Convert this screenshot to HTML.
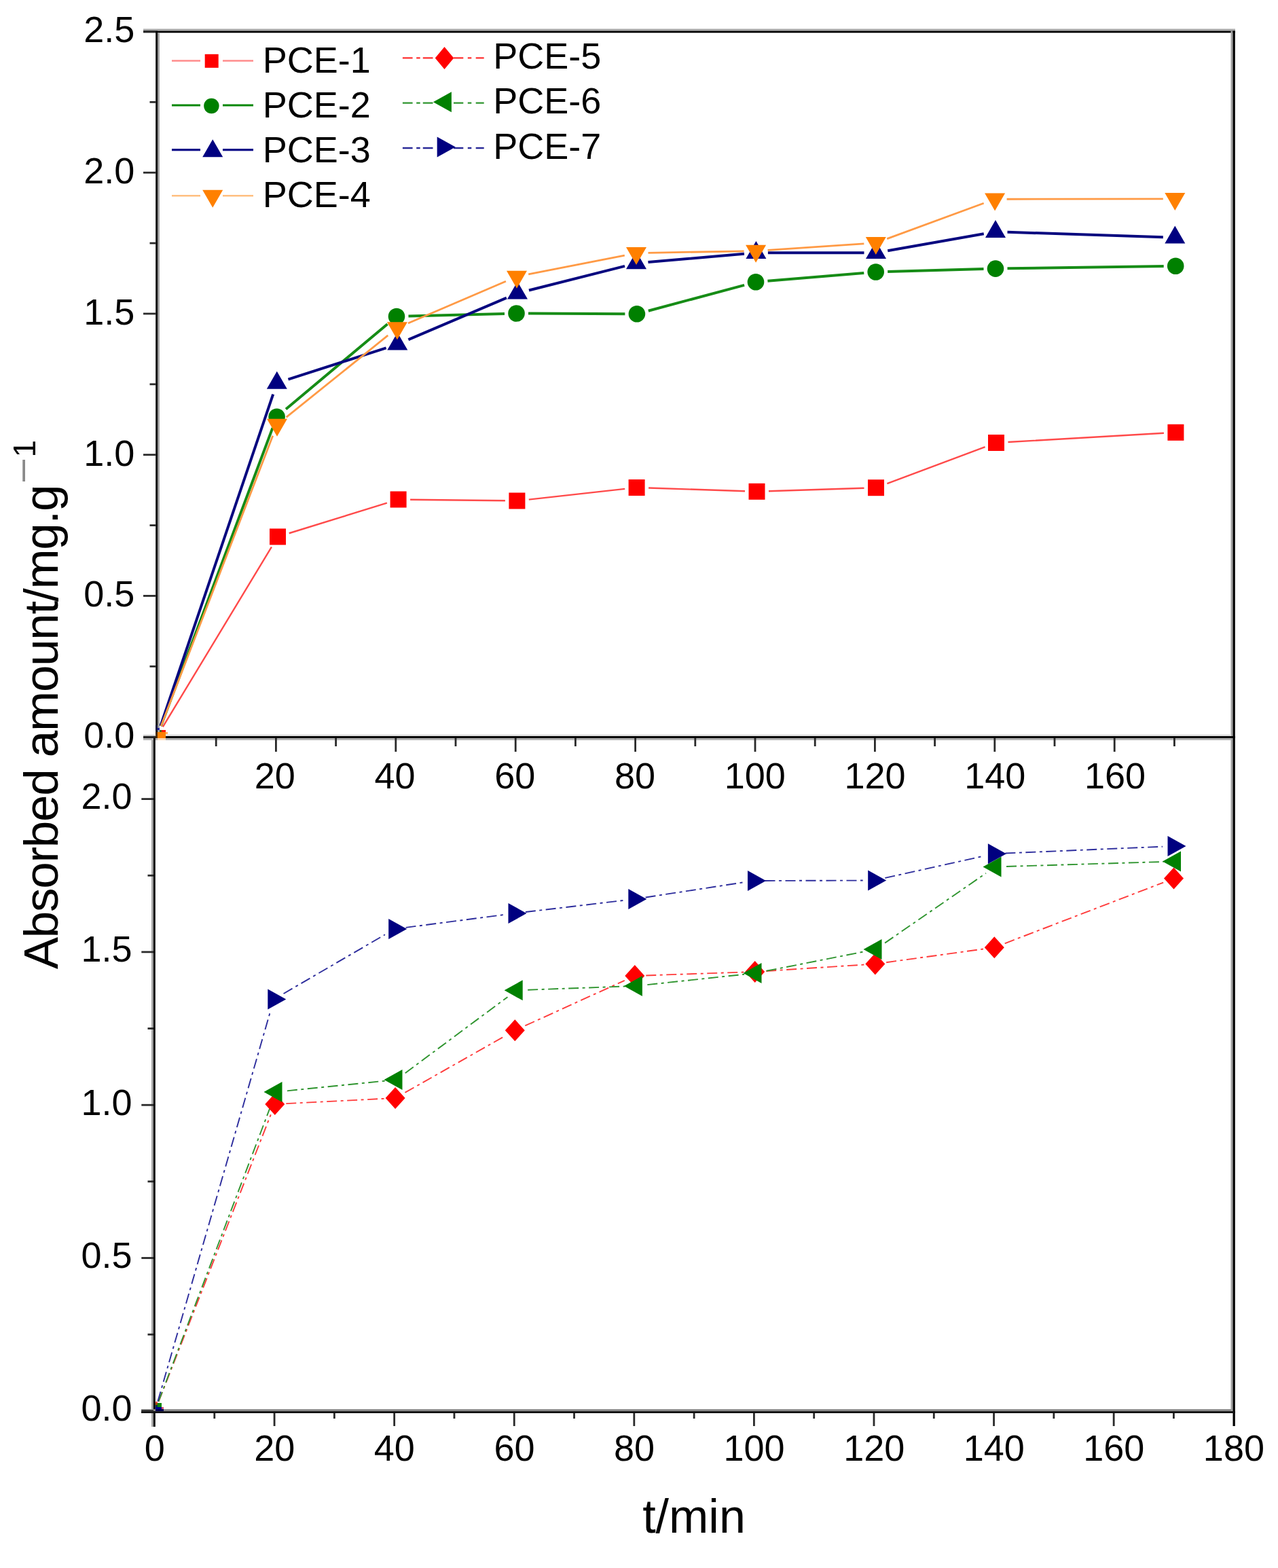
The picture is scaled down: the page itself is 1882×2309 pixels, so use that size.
<!DOCTYPE html>
<html><head><meta charset="utf-8"><title>Absorbed amount vs time</title>
<style>html,body{margin:0;padding:0;background:#fff;}svg{display:block;}</style>
</head><body>
<svg width="1882" height="2309" viewBox="0 0 1882 2309" font-family='"Liberation Sans", Arial, sans-serif'>
<rect width="1882" height="2309" fill="#ffffff"/>
<defs>
<clipPath id="ct"><rect x="232" y="48" width="1581" height="1036"/></clipPath>
<clipPath id="cb"><rect x="229" y="1090" width="1584" height="985"/></clipPath>
</defs>
<g clip-path="url(#ct)">
<path d="M239.79,1070.45L399.95,805.38 M425.72,785.23L569.88,740.67 M604.10,735.70L743.90,737.30 M778.79,735.58L920.21,719.92 M955.09,718.57L1097.01,723.23 M1131.99,723.24L1272.51,718.76 M1306.39,712.07L1450.61,658.13 M1484.47,651.00L1713.93,637.80" stroke="#ff4a4a" stroke-width="2.4" fill="none"/>
<path d="M236.97,1069.08L401.46,630.09 M421.02,602.47L570.58,477.23 M601.49,465.55L743.01,461.95 M778.00,461.58L920.40,462.22 M954.80,457.76L1096.10,419.84 M1130.44,413.84L1272.26,401.96 M1307.19,400.01L1448.51,396.09 M1483.50,395.35L1713.70,392.05" stroke="#168c16" stroke-width="4.0" fill="none"/>
<path d="M236.46,1068.90L402.18,580.61 M424.46,558.67L568.64,512.29 M601.41,500.09L745.89,438.68 M778.96,427.54L920.04,391.83 M954.43,386.02L1095.97,373.75 M1130.90,372.24L1272.50,372.32 M1307.23,369.29L1448.77,344.28 M1483.49,341.80L1712.81,349.17" stroke="#06067f" stroke-width="4.0" fill="none"/>
<path d="M237.11,1069.14L401.71,641.70 M421.63,614.39L571.27,493.94 M600.98,476.06L744.92,414.27 M778.17,403.98L919.83,376.05 M954.50,372.35L1095.60,369.78 M1130.56,368.30L1272.34,358.83 M1306.23,351.63L1448.67,299.30 M1482.60,293.23L1712.80,292.80" stroke="#ff9a45" stroke-width="2.8" fill="none"/>
<rect x="397.00" y="778.40" width="24.00" height="24.00" fill="#ff0000"/>
<rect x="574.60" y="723.50" width="24.00" height="24.00" fill="#ff0000"/>
<rect x="749.40" y="725.50" width="24.00" height="24.00" fill="#ff0000"/>
<rect x="925.60" y="706.00" width="24.00" height="24.00" fill="#ff0000"/>
<rect x="1102.50" y="711.80" width="24.00" height="24.00" fill="#ff0000"/>
<rect x="1278.00" y="706.20" width="24.00" height="24.00" fill="#ff0000"/>
<rect x="1455.00" y="640.00" width="24.00" height="24.00" fill="#ff0000"/>
<rect x="1719.40" y="624.80" width="24.00" height="24.00" fill="#ff0000"/>
<circle cx="407.60" cy="613.70" r="12.30" fill="#008000"/>
<circle cx="584.00" cy="466.00" r="12.30" fill="#008000"/>
<circle cx="760.50" cy="461.50" r="12.30" fill="#008000"/>
<circle cx="937.90" cy="462.30" r="12.30" fill="#008000"/>
<circle cx="1113.00" cy="415.30" r="12.30" fill="#008000"/>
<circle cx="1289.70" cy="400.50" r="12.30" fill="#008000"/>
<circle cx="1466.00" cy="395.60" r="12.30" fill="#008000"/>
<circle cx="1731.20" cy="391.80" r="12.30" fill="#008000"/>
<polygon points="407.80,546.70 422.80,572.70 392.80,572.70" fill="#000080"/>
<polygon points="585.30,489.60 600.30,515.60 570.30,515.60" fill="#000080"/>
<polygon points="762.00,414.50 777.00,440.50 747.00,440.50" fill="#000080"/>
<polygon points="937.00,370.20 952.00,396.20 922.00,396.20" fill="#000080"/>
<polygon points="1113.40,354.90 1128.40,380.90 1098.40,380.90" fill="#000080"/>
<polygon points="1290.00,355.00 1305.00,381.00 1275.00,381.00" fill="#000080"/>
<polygon points="1466.00,323.90 1481.00,349.90 1451.00,349.90" fill="#000080"/>
<polygon points="1730.30,332.40 1745.30,358.40 1715.30,358.40" fill="#000080"/>
<polygon points="393.00,616.70 423.00,616.70 408.00,642.70" fill="#ff8000"/>
<polygon points="569.90,474.30 599.90,474.30 584.90,500.30" fill="#ff8000"/>
<polygon points="746.00,398.70 776.00,398.70 761.00,424.70" fill="#ff8000"/>
<polygon points="922.00,364.00 952.00,364.00 937.00,390.00" fill="#ff8000"/>
<polygon points="1098.10,360.80 1128.10,360.80 1113.10,386.80" fill="#ff8000"/>
<polygon points="1274.80,349.00 1304.80,349.00 1289.80,375.00" fill="#ff8000"/>
<polygon points="1450.10,284.60 1480.10,284.60 1465.10,310.60" fill="#ff8000"/>
<polygon points="1715.30,284.10 1745.30,284.10 1730.30,310.10" fill="#ff8000"/>
</g>
<g clip-path="url(#cb)">
<path d="M233.60,2063.96L398.79,1641.37 M421.28,1625.16L565.62,1617.84 M596.46,1608.87L743.94,1525.43 M773.32,1510.47L919.78,1443.83 M951.29,1436.44L1095.21,1431.56 M1128.17,1429.93L1272.33,1420.57 M1305.14,1417.24L1447.96,1397.46 M1479.70,1389.28L1713.10,1299.52" stroke="#ff3a3a" stroke-width="1.9" fill="none" stroke-dasharray="15 5.5 4 5.5"/>
<path d="M233.47,2063.91L400.65,1623.43 M422.92,1606.33L567.08,1591.67 M596.74,1580.16L747.46,1468.14 M777.19,1457.70L920.41,1452.50 M953.31,1450.13L1096.09,1434.77 M1128.69,1429.80L1273.31,1401.20 M1303.08,1388.63L1451.92,1285.87 M1481.99,1276.00L1713.51,1269.00" stroke="#2e942e" stroke-width="1.9" fill="none" stroke-dasharray="15 5.5 4 5.5"/>
<path d="M232.38,2063.55L398.72,1487.35 M417.56,1463.20L566.94,1376.30 M597.56,1365.87L741.14,1347.13 M773.88,1343.05L917.92,1325.95 M950.61,1321.49L1093.69,1299.51 M1126.50,1296.95L1270.70,1296.55 M1303.31,1292.92L1447.79,1260.78 M1480.39,1256.50L1712.01,1246.70" stroke="#2c2c9c" stroke-width="1.9" fill="none" stroke-dasharray="15 5.5 4 5.5"/>
<polygon points="404.80,1610.00 419.30,1626.00 404.80,1642.00 390.30,1626.00" fill="#ff0000"/>
<polygon points="582.10,1601.00 596.60,1617.00 582.10,1633.00 567.60,1617.00" fill="#ff0000"/>
<polygon points="758.30,1501.30 772.80,1517.30 758.30,1533.30 743.80,1517.30" fill="#ff0000"/>
<polygon points="934.80,1421.00 949.30,1437.00 934.80,1453.00 920.30,1437.00" fill="#ff0000"/>
<polygon points="1111.70,1415.00 1126.20,1431.00 1111.70,1447.00 1097.20,1431.00" fill="#ff0000"/>
<polygon points="1288.80,1403.50 1303.30,1419.50 1288.80,1435.50 1274.30,1419.50" fill="#ff0000"/>
<polygon points="1464.30,1379.20 1478.80,1395.20 1464.30,1411.20 1449.80,1395.20" fill="#ff0000"/>
<polygon points="1728.50,1277.60 1743.00,1293.60 1728.50,1309.60 1714.00,1293.60" fill="#ff0000"/>
<polygon points="388.50,1608.00 415.50,1593.00 415.50,1623.00" fill="#008000"/>
<polygon points="565.50,1590.00 592.50,1575.00 592.50,1605.00" fill="#008000"/>
<polygon points="742.70,1458.30 769.70,1443.30 769.70,1473.30" fill="#008000"/>
<polygon points="918.90,1451.90 945.90,1436.90 945.90,1466.90" fill="#008000"/>
<polygon points="1094.50,1433.00 1121.50,1418.00 1121.50,1448.00" fill="#008000"/>
<polygon points="1271.50,1398.00 1298.50,1383.00 1298.50,1413.00" fill="#008000"/>
<polygon points="1447.50,1276.50 1474.50,1261.50 1474.50,1291.50" fill="#008000"/>
<polygon points="1712.00,1268.50 1739.00,1253.50 1739.00,1283.50" fill="#008000"/>
<polygon points="421.30,1471.50 394.30,1456.50 394.30,1486.50" fill="#000080"/>
<polygon points="599.20,1368.00 572.20,1353.00 572.20,1383.00" fill="#000080"/>
<polygon points="775.50,1345.00 748.50,1330.00 748.50,1360.00" fill="#000080"/>
<polygon points="952.30,1324.00 925.30,1309.00 925.30,1339.00" fill="#000080"/>
<polygon points="1128.00,1297.00 1101.00,1282.00 1101.00,1312.00" fill="#000080"/>
<polygon points="1305.20,1296.50 1278.20,1281.50 1278.20,1311.50" fill="#000080"/>
<polygon points="1481.90,1257.20 1454.90,1242.20 1454.90,1272.20" fill="#000080"/>
<polygon points="1746.50,1246.00 1719.50,1231.00 1719.50,1261.00" fill="#000080"/>
</g>
<rect x="211.00" y="42.50" width="1608.00" height="3.00" fill="#a8a8a8"/>
<rect x="211.00" y="45.50" width="1608.00" height="2.80" fill="#000000"/>
<rect x="1812.50" y="45.50" width="3.00" height="2035.50" fill="#a0a0a0"/>
<rect x="1815.50" y="45.50" width="3.30" height="2054.50" fill="#000000"/>
<rect x="229.20" y="45.50" width="2.80" height="1041.50" fill="#000000"/>
<rect x="232.00" y="48.30" width="2.80" height="1035.70" fill="#9a9a9a"/>
<rect x="211.00" y="1081.50" width="1602.00" height="2.50" fill="#e0e0e0"/>
<rect x="211.00" y="1084.00" width="1608.00" height="3.00" fill="#000000"/>
<rect x="211.00" y="1087.00" width="1602.00" height="3.00" fill="#b4b4b4"/>
<rect x="223.10" y="1090.00" width="2.90" height="1011.00" fill="#a0a0a0"/>
<rect x="226.00" y="1086.00" width="2.80" height="1015.00" fill="#000000"/>
<rect x="208.00" y="2075.10" width="1605.00" height="3.00" fill="#8a8a8a"/>
<rect x="208.00" y="2078.10" width="1611.00" height="2.90" fill="#111111"/>
<rect x="211.00" y="1083.80" width="18.20" height="2.80" fill="#2a2a2a"/>
<text x="198.30" y="1101.00" font-size="54" text-anchor="end">0.0</text>
<rect x="220.50" y="979.93" width="8.70" height="2.80" fill="#2a2a2a"/>
<rect x="211.00" y="876.05" width="18.20" height="2.80" fill="#2a2a2a"/>
<text x="198.30" y="893.25" font-size="54" text-anchor="end">0.5</text>
<rect x="220.50" y="772.18" width="8.70" height="2.80" fill="#2a2a2a"/>
<rect x="211.00" y="668.30" width="18.20" height="2.80" fill="#2a2a2a"/>
<text x="198.30" y="685.50" font-size="54" text-anchor="end">1.0</text>
<rect x="220.50" y="564.43" width="8.70" height="2.80" fill="#2a2a2a"/>
<rect x="211.00" y="460.55" width="18.20" height="2.80" fill="#2a2a2a"/>
<text x="198.30" y="477.75" font-size="54" text-anchor="end">1.5</text>
<rect x="220.50" y="356.68" width="8.70" height="2.80" fill="#2a2a2a"/>
<rect x="211.00" y="252.80" width="18.20" height="2.80" fill="#2a2a2a"/>
<text x="198.30" y="270.00" font-size="54" text-anchor="end">2.0</text>
<rect x="220.50" y="148.93" width="8.70" height="2.80" fill="#2a2a2a"/>
<rect x="211.00" y="45.05" width="18.20" height="2.80" fill="#2a2a2a"/>
<text x="198.30" y="62.25" font-size="54" text-anchor="end">2.5</text>
<rect x="208.30" y="2076.40" width="17.70" height="2.80" fill="#2a2a2a"/>
<text x="194.50" y="2092.20" font-size="54" text-anchor="end">0.0</text>
<rect x="217.50" y="1963.75" width="8.50" height="2.80" fill="#2a2a2a"/>
<rect x="208.30" y="1851.10" width="17.70" height="2.80" fill="#2a2a2a"/>
<text x="194.50" y="1866.90" font-size="54" text-anchor="end">0.5</text>
<rect x="217.50" y="1738.45" width="8.50" height="2.80" fill="#2a2a2a"/>
<rect x="208.30" y="1625.80" width="17.70" height="2.80" fill="#2a2a2a"/>
<text x="194.50" y="1641.60" font-size="54" text-anchor="end">1.0</text>
<rect x="217.50" y="1513.15" width="8.50" height="2.80" fill="#2a2a2a"/>
<rect x="208.30" y="1400.50" width="17.70" height="2.80" fill="#2a2a2a"/>
<text x="194.50" y="1416.30" font-size="54" text-anchor="end">1.5</text>
<rect x="217.50" y="1287.85" width="8.50" height="2.80" fill="#2a2a2a"/>
<rect x="208.30" y="1175.20" width="17.70" height="2.80" fill="#2a2a2a"/>
<text x="194.50" y="1191.00" font-size="54" text-anchor="end">2.0</text>
<rect x="316.80" y="1087.00" width="2.80" height="12.00" fill="#2a2a2a"/>
<rect x="405.00" y="1087.00" width="2.80" height="20.00" fill="#2a2a2a"/>
<text x="404.70" y="1160.60" font-size="54" text-anchor="middle">20</text>
<rect x="493.20" y="1087.00" width="2.80" height="12.00" fill="#2a2a2a"/>
<rect x="581.40" y="1087.00" width="2.80" height="20.00" fill="#2a2a2a"/>
<text x="581.46" y="1160.60" font-size="54" text-anchor="middle">40</text>
<rect x="669.60" y="1087.00" width="2.80" height="12.00" fill="#2a2a2a"/>
<rect x="757.80" y="1087.00" width="2.80" height="20.00" fill="#2a2a2a"/>
<text x="758.22" y="1160.60" font-size="54" text-anchor="middle">60</text>
<rect x="846.00" y="1087.00" width="2.80" height="12.00" fill="#2a2a2a"/>
<rect x="934.20" y="1087.00" width="2.80" height="20.00" fill="#2a2a2a"/>
<text x="934.98" y="1160.60" font-size="54" text-anchor="middle">80</text>
<rect x="1022.40" y="1087.00" width="2.80" height="12.00" fill="#2a2a2a"/>
<rect x="1110.60" y="1087.00" width="2.80" height="20.00" fill="#2a2a2a"/>
<text x="1111.74" y="1160.60" font-size="54" text-anchor="middle">100</text>
<rect x="1198.80" y="1087.00" width="2.80" height="12.00" fill="#2a2a2a"/>
<rect x="1287.00" y="1087.00" width="2.80" height="20.00" fill="#2a2a2a"/>
<text x="1288.50" y="1160.60" font-size="54" text-anchor="middle">120</text>
<rect x="1375.20" y="1087.00" width="2.80" height="12.00" fill="#2a2a2a"/>
<rect x="1463.40" y="1087.00" width="2.80" height="20.00" fill="#2a2a2a"/>
<text x="1465.26" y="1160.60" font-size="54" text-anchor="middle">140</text>
<rect x="1551.60" y="1087.00" width="2.80" height="12.00" fill="#2a2a2a"/>
<rect x="1639.80" y="1087.00" width="2.80" height="20.00" fill="#2a2a2a"/>
<text x="1642.02" y="1160.60" font-size="54" text-anchor="middle">160</text>
<rect x="1728.00" y="1087.00" width="2.80" height="12.00" fill="#2a2a2a"/>
<text x="227.70" y="2151.20" font-size="54" text-anchor="middle">0</text>
<rect x="314.39" y="2081.00" width="2.80" height="8.00" fill="#2a2a2a"/>
<rect x="402.68" y="2081.00" width="2.80" height="19.00" fill="#2a2a2a"/>
<text x="404.28" y="2151.20" font-size="54" text-anchor="middle">20</text>
<rect x="490.97" y="2081.00" width="2.80" height="8.00" fill="#2a2a2a"/>
<rect x="579.26" y="2081.00" width="2.80" height="19.00" fill="#2a2a2a"/>
<text x="580.86" y="2151.20" font-size="54" text-anchor="middle">40</text>
<rect x="667.55" y="2081.00" width="2.80" height="8.00" fill="#2a2a2a"/>
<rect x="755.84" y="2081.00" width="2.80" height="19.00" fill="#2a2a2a"/>
<text x="757.44" y="2151.20" font-size="54" text-anchor="middle">60</text>
<rect x="844.13" y="2081.00" width="2.80" height="8.00" fill="#2a2a2a"/>
<rect x="932.42" y="2081.00" width="2.80" height="19.00" fill="#2a2a2a"/>
<text x="934.02" y="2151.20" font-size="54" text-anchor="middle">80</text>
<rect x="1020.71" y="2081.00" width="2.80" height="8.00" fill="#2a2a2a"/>
<rect x="1109.00" y="2081.00" width="2.80" height="19.00" fill="#2a2a2a"/>
<text x="1110.60" y="2151.20" font-size="54" text-anchor="middle">100</text>
<rect x="1197.29" y="2081.00" width="2.80" height="8.00" fill="#2a2a2a"/>
<rect x="1285.58" y="2081.00" width="2.80" height="19.00" fill="#2a2a2a"/>
<text x="1287.18" y="2151.20" font-size="54" text-anchor="middle">120</text>
<rect x="1373.87" y="2081.00" width="2.80" height="8.00" fill="#2a2a2a"/>
<rect x="1462.16" y="2081.00" width="2.80" height="19.00" fill="#2a2a2a"/>
<text x="1463.76" y="2151.20" font-size="54" text-anchor="middle">140</text>
<rect x="1550.45" y="2081.00" width="2.80" height="8.00" fill="#2a2a2a"/>
<rect x="1638.74" y="2081.00" width="2.80" height="19.00" fill="#2a2a2a"/>
<text x="1640.34" y="2151.20" font-size="54" text-anchor="middle">160</text>
<rect x="1727.03" y="2081.00" width="2.80" height="8.00" fill="#2a2a2a"/>
<text x="1816.92" y="2151.20" font-size="54" text-anchor="middle">180</text>
<rect x="229.20" y="1068.00" width="2.80" height="8.00" fill="#0a0a40"/>
<rect x="232.00" y="1072.00" width="3.00" height="3.00" fill="#2020a0"/>
<rect x="235.00" y="1075.00" width="3.00" height="3.00" fill="#4a6a20"/>
<rect x="238.00" y="1075.00" width="6.00" height="3.00" fill="#ff1a00"/>
<rect x="229.20" y="1078.00" width="2.80" height="9.00" fill="#4a2a08"/>
<rect x="232.00" y="1078.00" width="12.00" height="9.00" fill="#ff8000"/>
<rect x="244.00" y="1078.00" width="3.00" height="3.00" fill="#ffb060"/>
<rect x="232.00" y="1087.00" width="12.00" height="3.00" fill="#ffdcb8"/>
<rect x="229.00" y="2064.00" width="3.00" height="2.00" fill="#ff5050"/>
<rect x="229.00" y="2066.00" width="3.00" height="3.00" fill="#9a4a00"/>
<rect x="232.00" y="2066.00" width="6.00" height="6.00" fill="#0a8a0a"/>
<rect x="229.00" y="2069.00" width="3.00" height="3.00" fill="#003050"/>
<rect x="229.00" y="2072.00" width="9.00" height="3.00" fill="#000090"/>
<rect x="238.00" y="2072.00" width="3.00" height="3.00" fill="#d05070"/>
<rect x="229.00" y="2075.00" width="12.00" height="3.10" fill="#000050"/>
<text x="1022.00" y="2256.60" font-size="70" text-anchor="middle">t/min</text>
<text transform="translate(84.6,1427.3) rotate(-90)" font-size="71" textLength="713.8" lengthAdjust="spacing">Absorbed amount/mg.g</text>
<text transform="translate(49.0,709) rotate(-90)" font-size="56" textLength="32" lengthAdjust="spacingAndGlyphs" fill="#8a8a8a">&#8211;</text>
<text transform="translate(52.2,673.5) rotate(-90)" font-size="46">1</text>
<path d="M253,89.5H295M328,89.5H373" stroke="#ff8c8c" stroke-width="2.6"/>
<rect x="301.70" y="79.80" width="20.00" height="20.00" fill="#ff0000"/>
<text x="386.80" y="106.80" font-size="54" text-anchor="start">PCE-1</text>
<path d="M253,154.9H295M328,154.9H373" stroke="#0a870a" stroke-width="3.0"/>
<circle cx="311.40" cy="156.00" r="11.20" fill="#008000"/>
<text x="386.80" y="172.60" font-size="54" text-anchor="start">PCE-2</text>
<path d="M253,220.7H295M328,220.7H373" stroke="#0a0a88" stroke-width="3.2"/>
<polygon points="313.20,205.22 328.20,231.22 298.20,231.22" fill="#000080"/>
<text x="386.80" y="238.90" font-size="54" text-anchor="start">PCE-3</text>
<path d="M253,288.2H295M328,288.2H373" stroke="#ffbf80" stroke-width="2.6"/>
<polygon points="298.20,279.75 328.20,279.75 313.20,305.75" fill="#ff8000"/>
<text x="386.80" y="305.30" font-size="54" text-anchor="start">PCE-4</text>
<path d="M592.9,85.4H607.6M613.2,85.4H618.7M622.8,85.4H637.5M668.0,85.4H682.3M688.8,85.4H694.3M700.7,85.4H712.7" stroke="#ff3030" stroke-width="2.3"/>
<polygon points="654.50,69.10 668.25,85.60 654.50,102.10 640.75,85.60" fill="#ff0000"/>
<text x="726.30" y="100.90" font-size="54" text-anchor="start">PCE-5</text>
<path d="M592.9,151.6H607.6M613.2,151.6H618.7M622.8,151.6H637.5M668.0,151.6H682.3M688.8,151.6H694.3M700.7,151.6H712.7" stroke="#2f952f" stroke-width="2.3"/>
<polygon points="637.90,150.30 664.90,135.30 664.90,165.30" fill="#008000"/>
<text x="726.30" y="167.20" font-size="54" text-anchor="start">PCE-6</text>
<path d="M592.9,218.0H607.6M613.2,218.0H618.7M622.8,218.0H637.5M668.0,218.0H682.3M688.8,218.0H694.3M700.7,218.0H712.7" stroke="#2a2a98" stroke-width="2.3"/>
<polygon points="670.70,216.50 643.70,201.50 643.70,231.50" fill="#000080"/>
<text x="726.30" y="233.60" font-size="54" text-anchor="start">PCE-7</text>
</svg>
</body></html>
